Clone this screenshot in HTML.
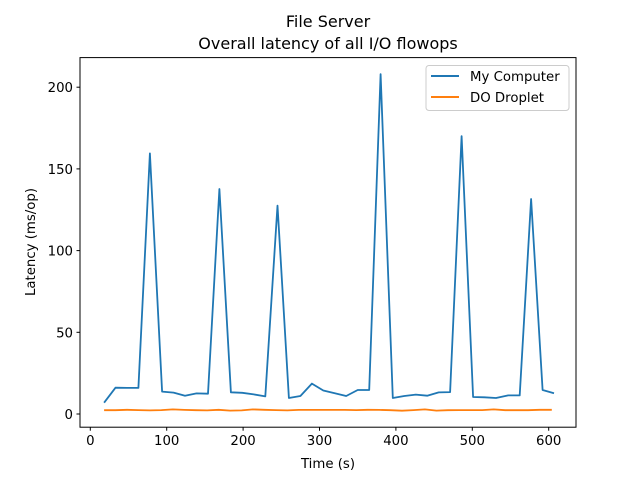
<!DOCTYPE html>
<html><head><meta charset="utf-8"><style>
body{margin:0;background:#fff;}
svg{font-family:"DejaVu Sans","Liberation Sans",sans-serif;}
</style></head><body>
<svg id="chart" width="640" height="480" viewBox="0 0 640 480">
<rect width="640" height="480" fill="#fff"/>
<text x="328" y="27" text-anchor="middle" font-size="16">File Server</text>
<text x="328" y="49" text-anchor="middle" font-size="16">Overall latency of all I/O flowops</text>
<g id="plot"></g>
<rect x="80" y="57.6" width="496" height="369.6" fill="none" stroke="#000" stroke-width="1"/>
<text x="328" y="468" text-anchor="middle" font-size="13.3">Time (s)</text>
<text transform="translate(35,242) rotate(-90)" text-anchor="middle" font-size="13.3">Latency (ms/op)</text>
<g>
<rect x="426" y="65.5" width="143" height="45" rx="3" fill="#fff" fill-opacity="0.8" stroke="#ccc"/>
<line x1="431" y1="76" x2="459" y2="76" stroke="#1f77b4" stroke-width="2"/>
<text x="470" y="81" font-size="13.3">My Computer</text>
<line x1="431" y1="97" x2="459" y2="97" stroke="#ff7f0e" stroke-width="2"/>
<text x="470" y="102" font-size="13.3">DO Droplet</text>
</g>
</svg>
<script>
const times = [18,33,48,63,78,94,109,124,139,154,169,184,199,214,229,245,260,275,290,305,320,335,350,365,380,396,411,426,441,456,471,486,501,516,531,547,562,577,592,607];
const dropletTimes = [18,33,48,63,78,93,108,123,138,153,168,183,198,213,228,243,258,273,288,303,318,333,348,363,378,393,408,423,438,453,468,483,498,513,528,543,558,573,588,604];
const myComputer = [6.9,16.1,16,16,159.5,13.7,13.1,11.2,12.6,12.4,137.7,13.3,13,12,10.8,127.5,9.8,11,18.6,14.4,12.7,11,14.7,14.7,208,9.8,11,11.9,11.2,13.2,13.4,170,10.4,10.2,9.8,11.4,11.4,131.6,14.7,12.7];
const doDroplet = [2.3,2.3,2.6,2.4,2.2,2.4,2.8,2.5,2.3,2.2,2.6,2.1,2.2,2.8,2.6,2.4,2.2,2.5,2.5,2.5,2.5,2.5,2.4,2.6,2.5,2.3,2.0,2.4,2.8,2.1,2.3,2.4,2.4,2.4,2.8,2.3,2.3,2.3,2.6,2.6];
const xTicks = [0,100,200,300,400,500,600];
const yTicks = [0,50,100,150,200];

const NS = "http://www.w3.org/2000/svg";
const plot = document.getElementById('plot');
function xs(v){return 90.3 + v*0.764;}
function ys(v){return 414 - v*1.634;}
function mk(tag, attrs){const e=document.createElementNS(NS,tag);for(const k in attrs)e.setAttribute(k,attrs[k]);plot.appendChild(e);return e;}

xTicks.forEach(t=>{
  const l = mk('line',{x1:xs(t),x2:xs(t),y1:427.2,y2:430.7,stroke:'#000'});
  
  
  const tx = mk('text',{x:xs(t),y:445,'text-anchor':'middle','font-size':'13.3'});
  tx.textContent = t;
  
  
});
yTicks.forEach(t=>{
  const l = mk('line',{x1:76.5,x2:80,y1:ys(t),y2:ys(t),stroke:'#000'});
  
  
  const tx = mk('text',{x:73,y:ys(t)+5,'text-anchor':'end','font-size':'13.3'});
  tx.textContent = t;
  
  
});
function series(tv, vals, color, name){
  const pts = vals.map((v,i)=>xs(tv[i]).toFixed(1)+','+ys(v).toFixed(1)).join(' ');
  const p = mk('polyline',{points:pts,fill:'none',stroke:color,'stroke-width':'1.8','stroke-linejoin':'round'});
  
  
}
series(times, myComputer,'#1f77b4','my-computer-line');
series(dropletTimes, doDroplet,'#ff7f0e','do-droplet-line');
</script>
</body></html>
